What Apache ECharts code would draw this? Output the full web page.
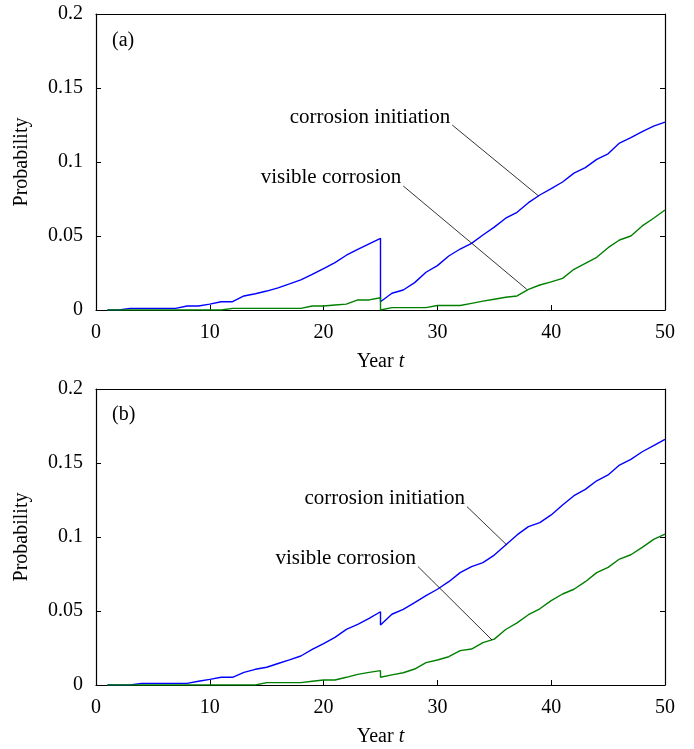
<!DOCTYPE html>
<html>
<head>
<meta charset="utf-8">
<script src="https://cdn.jsdelivr.net/npm/echarts@6/dist/echarts.min.js"></script>
<style>
  html, body { margin: 0; padding: 0; background: #fff; }
  #chart { width: 694px; height: 749px; }
</style>
</head>
<body>
<div id="chart"></div>
<script>
// years 1..50
const years = Array.from({ length: 50 }, (_, i) => i + 1)

// (a) probabilities per year; at t=25 the curve resets, value after reset kept apart
const initA = [0, 0, 0.0011, 0.0011, 0.0011, 0.0011, 0.0011, 0.0027, 0.0027, 0.004,
  0.0056, 0.0056, 0.0095, 0.011, 0.0128, 0.015, 0.0176, 0.0203, 0.024, 0.028,
  0.032, 0.037, 0.041, 0.0447, 0.0484, 0.0113, 0.0135, 0.0185, 0.0255, 0.03,
  0.0365, 0.0412, 0.045, 0.0507, 0.056, 0.062, 0.066, 0.0725, 0.0777, 0.082,
  0.0865, 0.0925, 0.0962, 0.1018, 0.1055, 0.1128, 0.1165, 0.1205, 0.1243, 0.127]
const initAReset = 0.0056
const visA = [0, 0, 0, 0, 0, 0, 0, 0, 0, 0,
  0, 0.0011, 0.0011, 0.0011, 0.0011, 0.0011, 0.0011, 0.0011, 0.0027, 0.0027,
  0.0034, 0.004, 0.0068, 0.0068, 0.0083, 0.0016, 0.0016, 0.0016, 0.0016, 0.003,
  0.003, 0.003, 0.0045, 0.006, 0.0073, 0.0086, 0.0095, 0.014, 0.0169, 0.019,
  0.0214, 0.0275, 0.0315, 0.0356, 0.0421, 0.0473, 0.05, 0.0568, 0.062, 0.0676]
const visAReset = 0

// (b)
const initB = [0, 0, 0, 0.0011, 0.0011, 0.0011, 0.0011, 0.0011, 0.0025, 0.0038,
  0.0052, 0.0052, 0.0085, 0.0106, 0.012, 0.0145, 0.017, 0.0196, 0.024, 0.028,
  0.0322, 0.0376, 0.041, 0.045, 0.0495, 0.0478, 0.0511, 0.0556, 0.0604, 0.0647,
  0.0698, 0.0759, 0.08, 0.0827, 0.0878, 0.0946, 0.1014, 0.107, 0.1097, 0.1149,
  0.1216, 0.1279, 0.1322, 0.138, 0.1419, 0.1486, 0.1525, 0.1576, 0.1617, 0.166]
const initBReset = 0.0405
const visB = [0, 0, 0, 0, 0, 0, 0, 0, 0, 0,
  0, 0, 0, 0, 0.0016, 0.0016, 0.0016, 0.0016, 0.0025, 0.0034,
  0.0034, 0.0052, 0.0072, 0.0085, 0.0097, 0.0068, 0.0083, 0.0108, 0.0151, 0.0169,
  0.0191, 0.0232, 0.0243, 0.0286, 0.031, 0.0375, 0.042, 0.0475, 0.0515, 0.057,
  0.0615, 0.0647, 0.0698, 0.0759, 0.0795, 0.0851, 0.088, 0.093, 0.0984, 0.102]
const visBReset = 0.0052

const resetYear = 25

// annotation leader lines [[x1, y1], [x2, y2]] in data units
const leaderInitA = [[31.3, 0.125], [38.9, 0.077]]
const leaderVisA = [[27.0, 0.0838], [37.85, 0.014]]
const leaderInitB = [[32.6, 0.1205], [36.1, 0.0946]]
const leaderVisB = [[28.3, 0.08], [34.8, 0.0304]]

function pairs (vals, reset) {
  const out = []
  years.forEach((t, i) => {
    out.push([t, vals[i]])
    if (t === resetYear) out.push([t, reset])
  })
  return out
}

const font = 'Liberation Serif'
const fs = 20
const tickFont = { color: '#000', fontFamily: font, fontSize: fs }

function axesFor (idx) {
  return {
    x: [
      {
        gridIndex: idx, type: 'value', min: 0, max: 50, interval: 10,
        axisLine: { show: true, onZero: false, lineStyle: { color: '#000', width: 1.2 } },
        axisTick: { inside: true, length: 5, lineStyle: { color: '#000' } },
        splitLine: { show: false },
        axisLabel: Object.assign({ margin: 13 }, tickFont),
        name: '{n|Year }{t|t}',
        nameLocation: 'middle',
        nameGap: 42,
        nameTextStyle: {
          rich: {
            n: { fontFamily: font, fontSize: fs, color: '#000' },
            t: { fontFamily: font, fontSize: fs, fontStyle: 'italic', color: '#000' }
          }
        }
      },
      {
        gridIndex: idx, type: 'value', position: 'top', min: 0, max: 50, interval: 10,
        axisLine: { show: true, onZero: false, lineStyle: { color: '#000', width: 1.2 } },
        axisTick: { show: false },
        axisLabel: { show: false },
        splitLine: { show: false }
      }
    ],
    y: [
      {
        gridIndex: idx, type: 'value', min: 0, max: 0.2, interval: 0.05,
        axisLine: { show: true, onZero: false, lineStyle: { color: '#000', width: 1.2 } },
        axisTick: { inside: true, length: 5, lineStyle: { color: '#000' } },
        splitLine: { show: false },
        axisLabel: Object.assign({ margin: 13, formatter: v => String(+v.toFixed(2)) }, tickFont),
        name: 'Probability',
        nameLocation: 'middle',
        nameGap: 64,
        nameTextStyle: { fontFamily: font, fontSize: fs, color: '#000' }
      },
      {
        gridIndex: idx, type: 'value', position: 'right', min: 0, max: 0.2, interval: 0.05,
        axisLine: { show: true, onZero: false, lineStyle: { color: '#000', width: 1.2 } },
        axisTick: { inside: true, length: 5, lineStyle: { color: '#000' } },
        axisLabel: { show: false },
        splitLine: { show: false }
      }
    ]
  }
}

const ax0 = axesFor(0)
const ax1 = axesFor(1)

function curve (data, color, xi, yi) {
  return {
    type: 'line', data: data, xAxisIndex: xi, yAxisIndex: yi,
    showSymbol: false, symbol: 'none', animation: false,
    lineStyle: { color: color, width: 1.4 }
  }
}

function leader (pts, text, xi, yi) {
  return {
    type: 'line', xAxisIndex: xi, yAxisIndex: yi, animation: false,
    symbol: 'circle', symbolSize: 0.1, showSymbol: true,
    itemStyle: { color: '#000' },
    lineStyle: { color: '#000', width: 0.8 },
    emphasis: { disabled: true },
    data: [
      {
        value: pts[0],
        label: {
          show: true, position: 'left', distance: 2, offset: [0, -8],
          formatter: text, fontFamily: font, fontSize: 21, color: '#000'
        }
      },
      { value: pts[1] }
    ]
  }
}

const chart = echarts.init(document.getElementById('chart'))
chart.setOption({
  backgroundColor: '#fff',
  animation: false,
  grid: [
    { left: 96, right: 29, top: 14, height: 296 },
    { left: 96, right: 29, top: 389, height: 296 }
  ],
  xAxis: ax0.x.concat(ax1.x),
  yAxis: ax0.y.concat(ax1.y),
  graphic: [
    { type: 'text', left: 112, top: 31, style: { text: '(a)', fontFamily: font, fontSize: fs, fill: '#000' } },
    { type: 'text', left: 112, top: 405, style: { text: '(b)', fontFamily: font, fontSize: fs, fill: '#000' } }
  ],
  series: [
    curve(pairs(initA, initAReset), '#0000ff', 0, 0),
    curve(pairs(visA, visAReset), '#008000', 0, 0),
    curve(pairs(initB, initBReset), '#0000ff', 2, 2),
    curve(pairs(visB, visBReset), '#008000', 2, 2),
    leader(leaderInitA, 'corrosion initiation', 0, 0),
    leader(leaderVisA, 'visible corrosion', 0, 0),
    leader(leaderInitB, 'corrosion initiation', 2, 2),
    leader(leaderVisB, 'visible corrosion', 2, 2)
  ]
})
</script>
</body>
</html>
